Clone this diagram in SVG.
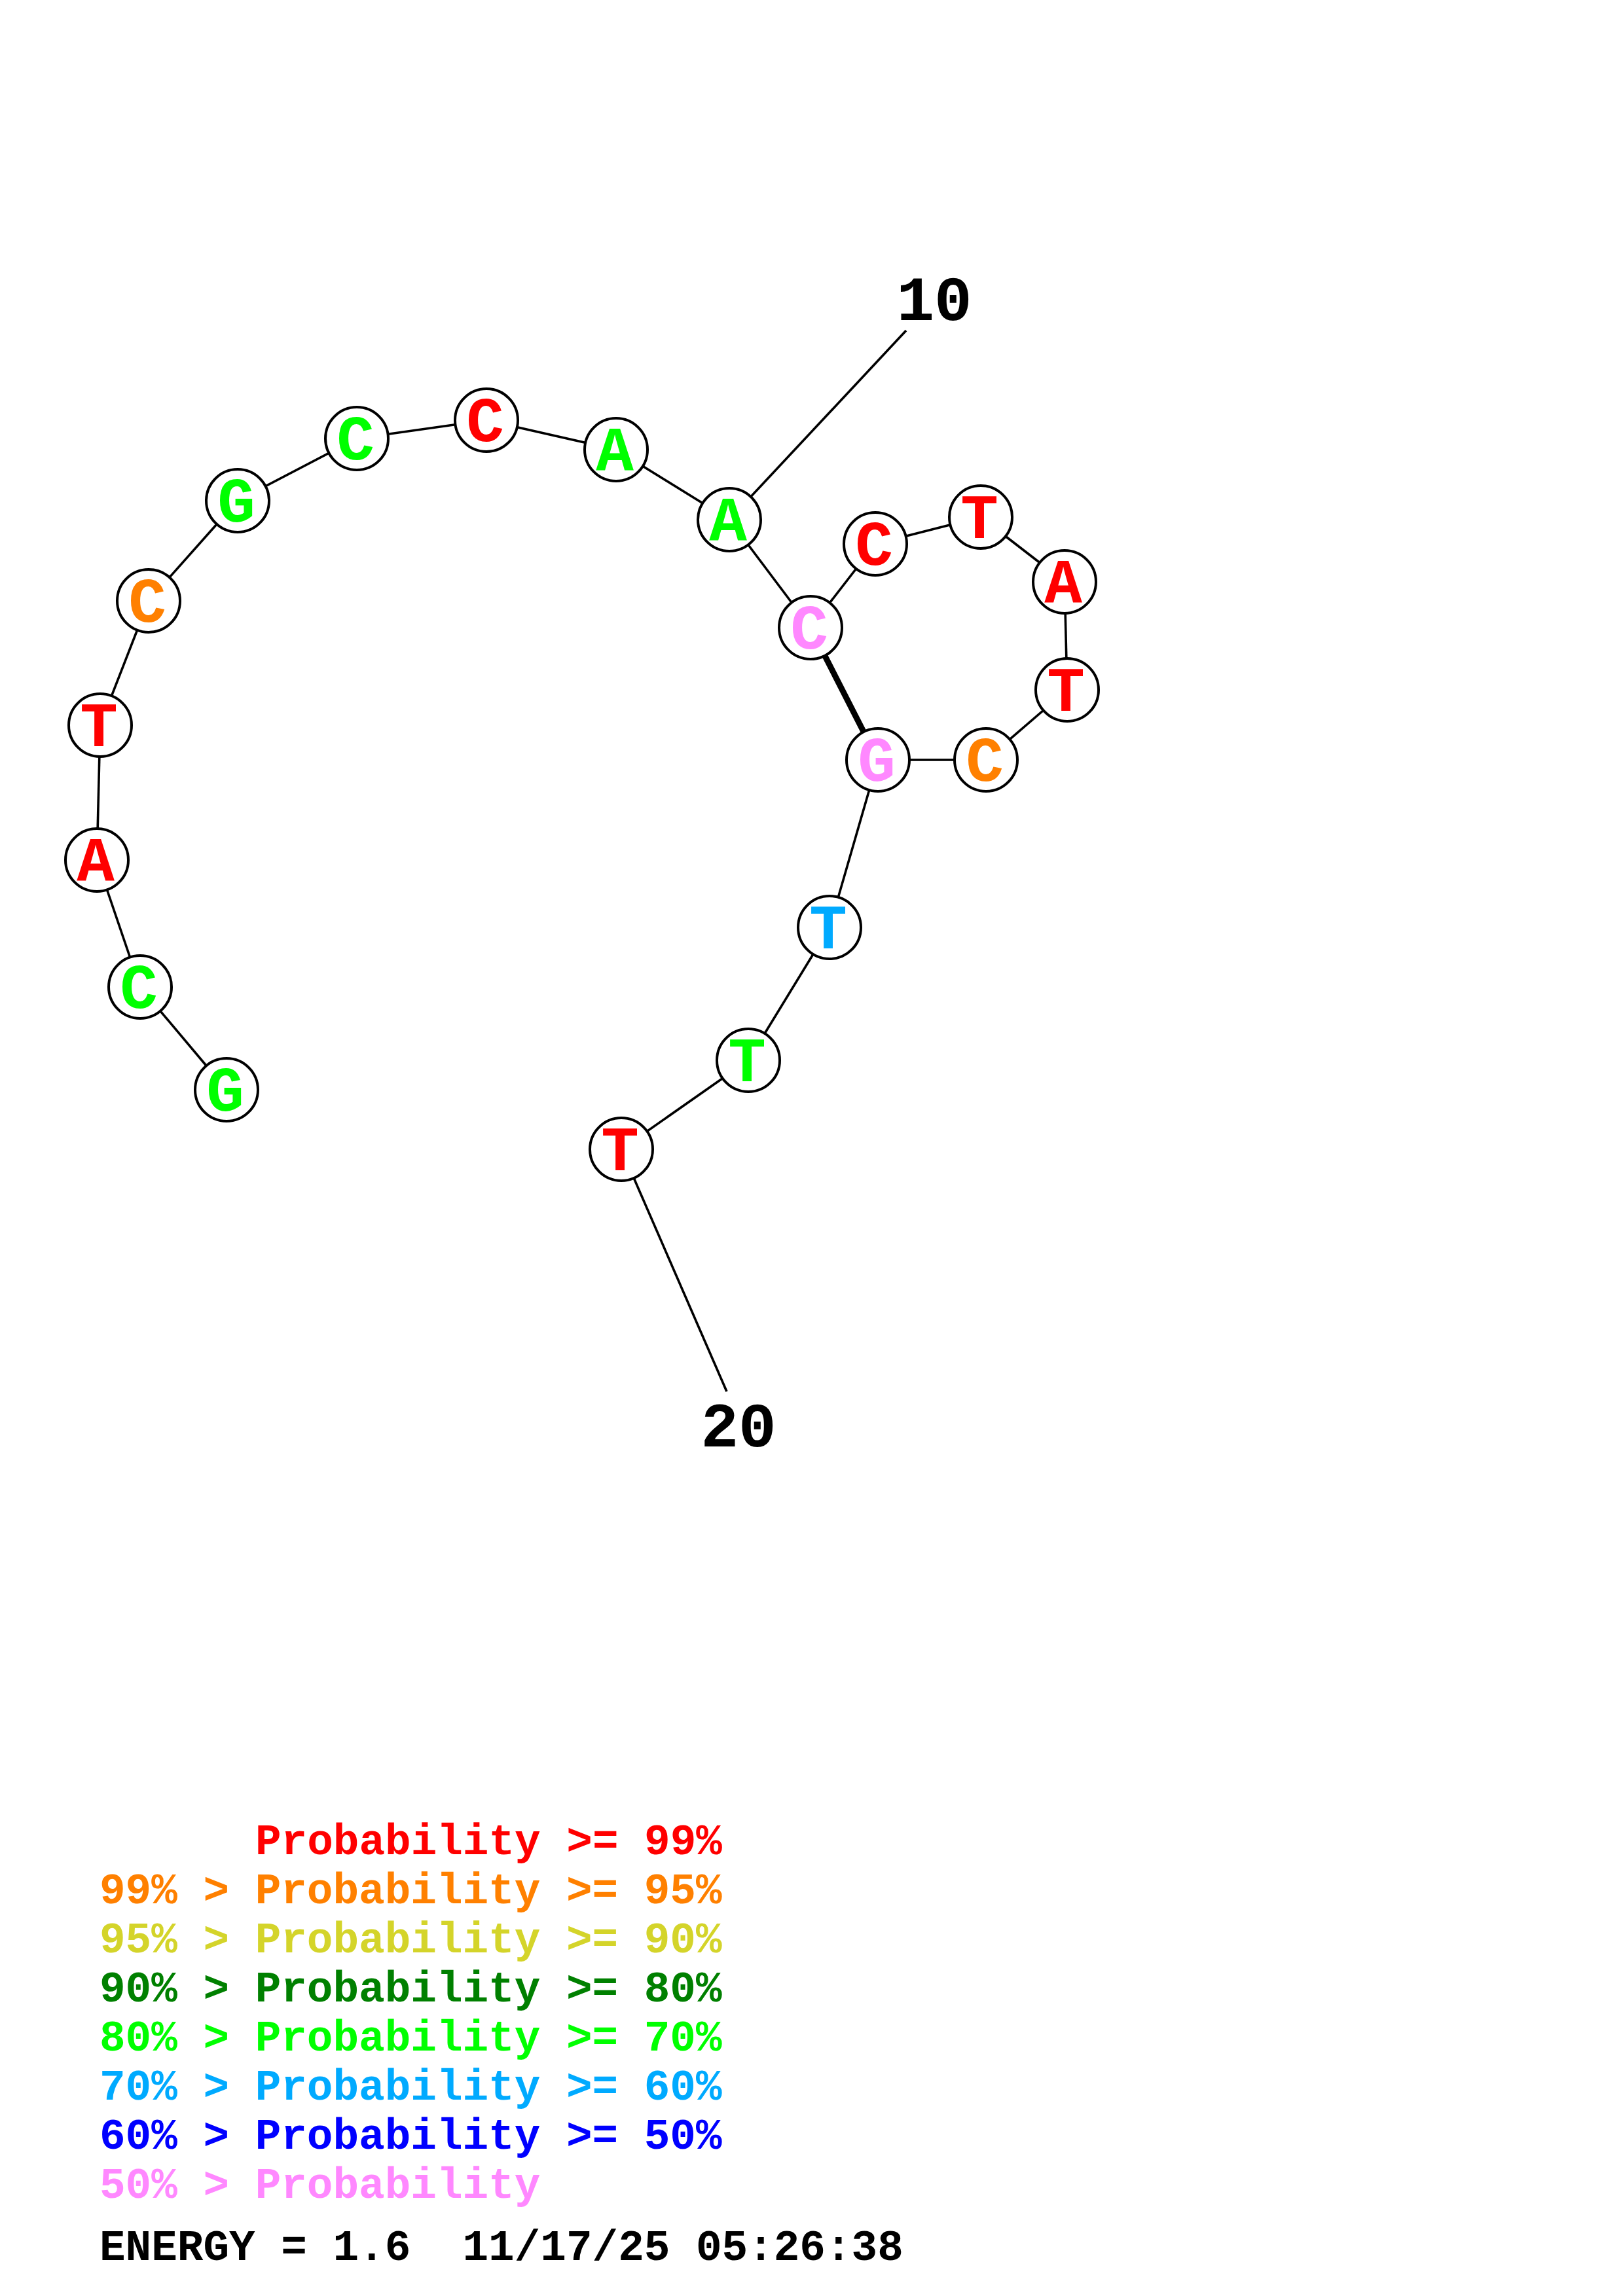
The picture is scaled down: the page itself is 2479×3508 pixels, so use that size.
<svg xmlns="http://www.w3.org/2000/svg" width="2479" height="3508" viewBox="0 0 2479 3508">
<style>
.bg{fill:#ffffff}
.nd{fill:#ffffff;stroke:#000000;stroke-width:4}
.lk{stroke:#000000;stroke-width:3.6;fill:none}
.bp{stroke:#000000;stroke-width:9;fill:none}
.nt{font-family:"Liberation Mono","Courier New",monospace;font-weight:bold;font-size:96px;text-anchor:middle}
.num{font-family:"Liberation Mono","Courier New",monospace;font-weight:bold;font-size:96px;text-anchor:middle;fill:#000000}
.lg{font-family:"Liberation Mono","Courier New",monospace;font-weight:bold;font-size:66px;white-space:pre}
.r{fill:#FF0000}.o{fill:#FF8000}.y{fill:#D4D42A}.dg{fill:#008000}.g{fill:#00FF00}.lb{fill:#00AAFF}.b{fill:#0000FF}.p{fill:#FF88FF}.k{fill:#000000}
</style>
<rect class="bg" x="0" y="0" width="2479" height="3508"/>
<g id="connectors">
<line class="lk" x1="346" y1="1665" x2="214" y2="1508"/>
<line class="lk" x1="214" y1="1508" x2="148" y2="1314"/>
<line class="lk" x1="148" y1="1314" x2="153" y2="1108"/>
<line class="lk" x1="153" y1="1108" x2="227" y2="918"/>
<line class="lk" x1="227" y1="918" x2="363" y2="765"/>
<line class="lk" x1="363" y1="765" x2="545" y2="670"/>
<line class="lk" x1="545" y1="670" x2="743" y2="642"/>
<line class="lk" x1="743" y1="642" x2="941" y2="687"/>
<line class="lk" x1="941" y1="687" x2="1114" y2="794"/>
<line class="lk" x1="1114" y1="794" x2="1238" y2="959"/>
<line class="lk" x1="1238" y1="959" x2="1337" y2="831"/>
<line class="lk" x1="1337" y1="831" x2="1498" y2="790"/>
<line class="lk" x1="1498" y1="790" x2="1626" y2="889"/>
<line class="lk" x1="1626" y1="889" x2="1630" y2="1054"/>
<line class="lk" x1="1630" y1="1054" x2="1506" y2="1161"/>
<line class="lk" x1="1506" y1="1161" x2="1341" y2="1161"/>
<line class="lk" x1="1341" y1="1161" x2="1267" y2="1417"/>
<line class="lk" x1="1267" y1="1417" x2="1143" y2="1620"/>
<line class="lk" x1="1143" y1="1620" x2="949" y2="1756"/>
<line class="bp" x1="1238" y1="959" x2="1341" y2="1161"/>
<line class="lk" x1="1114" y1="794" x2="1384" y2="505"/>
<line class="lk" x1="949" y1="1756" x2="1110" y2="2126"/>
</g>
<g id="n1"><circle class="nd" cx="346" cy="1665" r="48"/><text class="nt g" x="344" y="1697">G</text></g>
<g id="n2"><circle class="nd" cx="214" cy="1508" r="48"/><text class="nt g" x="212" y="1540">C</text></g>
<g id="n3"><circle class="nd" cx="148" cy="1314" r="48"/><text class="nt r" x="146" y="1346">A</text></g>
<g id="n4"><circle class="nd" cx="153" cy="1108" r="48"/><text class="nt r" x="151" y="1140">T</text></g>
<g id="n5"><circle class="nd" cx="227" cy="918" r="48"/><text class="nt o" x="225" y="950">C</text></g>
<g id="n6"><circle class="nd" cx="363" cy="765" r="48"/><text class="nt g" x="361" y="797">G</text></g>
<g id="n7"><circle class="nd" cx="545" cy="670" r="48"/><text class="nt g" x="543" y="702">C</text></g>
<g id="n8"><circle class="nd" cx="743" cy="642" r="48"/><text class="nt r" x="741" y="674">C</text></g>
<g id="n9"><circle class="nd" cx="941" cy="687" r="48"/><text class="nt g" x="939" y="719">A</text></g>
<g id="n10"><circle class="nd" cx="1114" cy="794" r="48"/><text class="nt g" x="1112" y="826">A</text></g>
<g id="n11"><circle class="nd" cx="1238" cy="959" r="48"/><text class="nt p" x="1236" y="991">C</text></g>
<g id="n12"><circle class="nd" cx="1337" cy="831" r="48"/><text class="nt r" x="1335" y="863">C</text></g>
<g id="n13"><circle class="nd" cx="1498" cy="790" r="48"/><text class="nt r" x="1496" y="822">T</text></g>
<g id="n14"><circle class="nd" cx="1626" cy="889" r="48"/><text class="nt r" x="1624" y="921">A</text></g>
<g id="n15"><circle class="nd" cx="1630" cy="1054" r="48"/><text class="nt r" x="1628" y="1086">T</text></g>
<g id="n16"><circle class="nd" cx="1506" cy="1161" r="48"/><text class="nt o" x="1504" y="1193">C</text></g>
<g id="n17"><circle class="nd" cx="1341" cy="1161" r="48"/><text class="nt p" x="1339" y="1193">G</text></g>
<g id="n18"><circle class="nd" cx="1267" cy="1417" r="48"/><text class="nt lb" x="1265" y="1449">T</text></g>
<g id="n19"><circle class="nd" cx="1143" cy="1620" r="48"/><text class="nt g" x="1141" y="1652">T</text></g>
<g id="n20"><circle class="nd" cx="949" cy="1756" r="48"/><text class="nt r" x="947" y="1788">T</text></g>
<g id="labels">
<text class="num" x="1427" y="489">10</text>
<text class="num" x="1128" y="2210">20</text>
</g>
<g id="legend">
<text class="lg r" x="390" y="2833">Probability &gt;= 99%</text>
<text class="lg o" x="152" y="2908">99% &gt; Probability &gt;= 95%</text>
<text class="lg y" x="152" y="2983">95% &gt; Probability &gt;= 90%</text>
<text class="lg dg" x="152" y="3058">90% &gt; Probability &gt;= 80%</text>
<text class="lg g" x="152" y="3133">80% &gt; Probability &gt;= 70%</text>
<text class="lg lb" x="152" y="3208">70% &gt; Probability &gt;= 60%</text>
<text class="lg b" x="152" y="3283">60% &gt; Probability &gt;= 50%</text>
<text class="lg p" x="152" y="3358">50% &gt; Probability</text>
<text class="lg k" x="152" y="3453">ENERGY = 1.6  11/17/25 05:26:38</text>
</g>
</svg>
